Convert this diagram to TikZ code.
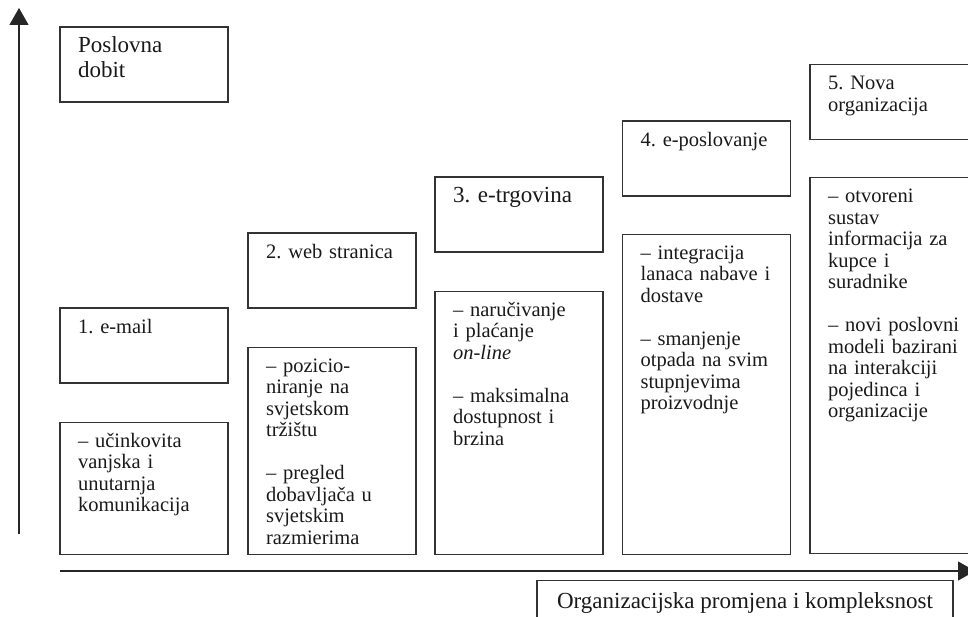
\documentclass[tikz,border=0pt]{standalone}
\usepackage{fontspec}
\setmainfont{Liberation Serif}
\usetikzlibrary{
    arrows.meta,
    positioning
}

\newcommand{\bodysize}{\fontsize{20.5}{21.5}\selectfont\frenchspacing}
\newcommand{\headsize}{\fontsize{23}{25}\selectfont\frenchspacing}

\tikzset{
    stage/.style={draw=black!80, line width=1.3pt, minimum width=168pt, inner sep=0pt},
    stagetext/.style={inner sep=0pt, text width=150pt, align=left, font=\bodysize,
        text=black!90, execute at begin node=\strut},
    axis/.style={draw=black!85, line width=1.3pt, -{Triangle[length=17pt,width=19pt]}}
}

\begin{document}
\begin{tikzpicture}[x=1pt, y=1pt]
    \useasboundingbox (0,0) rectangle (968,-617);

    % axes
    \coordinate (yfoot) at (19,-534);
    \coordinate (ytip) at (19,-8);
    \coordinate (xfoot) at (60,-571);
    \coordinate (xtip) at (975,-571);
    \draw[axis] (yfoot) -- (ytip);
    \draw[axis] (xfoot) -- (xtip);

    % top left
    \node[stage, minimum height=75pt] (gain) at (144,-64.5) {};
    \node[stagetext, font=\headsize, below right=8.5pt and 18.5pt of gain.north west]
        {Poslovna\\dobit};

    % 1
    \node[stage, minimum height=75pt] (mailhead) at (144,-345.5) {};
    \node[stage, minimum height=132pt, below=38pt of mailhead] (mailbody) {};
    \node[stagetext, below right=10.5pt and 18.5pt of mailhead.north west] {1. e-mail};
    \node[stagetext, below right=10.5pt and 18.5pt of mailbody.north west]
        {– učinkovita\\vanjska i\\unutarnja\\komunikacija};

    % 2
    \node[stage, minimum height=75pt] (webhead) at (332,-270.5) {};
    \node[stage, minimum height=207pt, below=38pt of webhead] (webbody) {};
    \node[stagetext, below right=10.5pt and 18.5pt of webhead.north west] {2. web stranica};
    \node[stagetext, below right=10.5pt and 18.5pt of webbody.north west]
        {– pozicio-\\niranje na\\svjetskom\\tržištu\\[21.5pt]– pregled\\dobavljača u\\svjetskim\\razmierima};

    % 3
    \node[stage, minimum height=75pt] (shophead) at (519,-214.5) {};
    \node[stage, minimum height=263pt, below=38pt of shophead] (shopbody) {};
    \node[stagetext, font=\headsize, below right=8.5pt and 18.5pt of shophead.north west]
        {3. e-trgovina};
    \node[stagetext, below right=10.5pt and 18.5pt of shopbody.north west]
        {– naručivanje\\i plaćanje\\\textit{on-line}\\[21.5pt]– maksimalna\\dostupnost i\\brzina};

    % 4
    \node[stage, minimum height=75pt] (ebizhead) at (706.5,-158.5) {};
    \node[stage, minimum height=320pt, below=37pt of ebizhead] (ebizbody) {};
    \node[stagetext, below right=10.5pt and 18.5pt of ebizhead.north west] {4. e-poslovanje};
    \node[stagetext, below right=10.5pt and 18.5pt of ebizbody.north west]
        {– integracija\\lanaca nabave i\\dostave\\[21.5pt]– smanjenje\\otpada na svim\\stupnjevima\\proizvodnje};

    % 5
    \node[stage, minimum height=75pt] (orghead) at (894,-102) {};
    \node[stage, minimum height=376pt, below=37pt of orghead] (orgbody) {};
    \node[stagetext, below right=10.5pt and 18.5pt of orghead.north west]
        {5. Nova\\organizacija};
    \node[stagetext, below right=10.5pt and 18.5pt of orgbody.north west]
        {– otvoreni\\sustav\\informacija za\\kupce i\\suradnike\\[21.5pt]– novi poslovni\\modeli bazirani\\na interakciji\\pojedinca i\\organizacije};

    % x axis label
    \node[stage, minimum width=416pt, anchor=north, inner ysep=0pt, text height=28pt,
        text depth=20pt, font=\headsize, text=black!90] (xlabel) at (745,-580)
        {Organizacijska promjena i kompleksnost};
\end{tikzpicture}
\end{document}
